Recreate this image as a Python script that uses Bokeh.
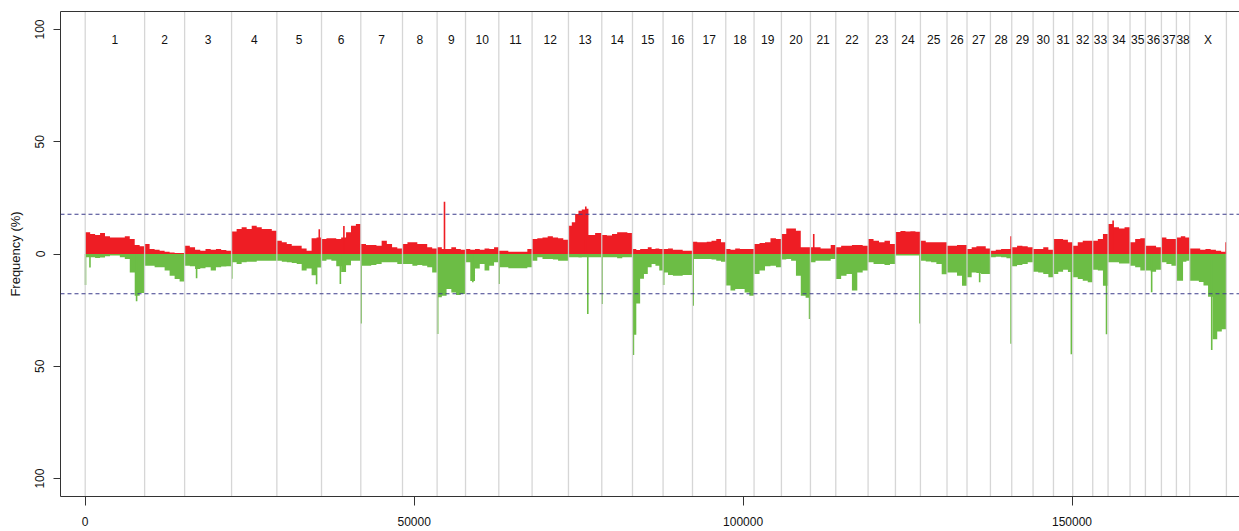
import numpy as np
from bokeh.plotting import figure
from bokeh.models import (ColumnDataSource, Range1d, LinearAxis, FixedTicker, Span)
from bokeh.core.properties import value
from bokeh.embed import file_html
from bokeh.resources import INLINE

# ---------------- data ----------------
CHROMS = ["1", "2", "3", "4", "5", "6", "7", "8", "9", "10", "11", "12", "13",
          "14", "15", "16", "17", "18", "19", "20", "21", "22", "23", "24", "25",
          "26", "27", "28", "29", "30", "31", "32", "33", "34", "35", "36", "37",
          "38", "X"]
CHROM_SIZES = [9030, 6080, 7140, 6880, 6790, 5970, 6340, 5260, 4320, 5060, 5060,
               5530, 5060, 4670, 4650, 4470, 5060, 4300, 4160, 4410, 3850, 4910,
               4160, 3800, 4040, 3040, 3560, 3240, 3240, 3100, 2930, 3040, 2330,
               3340, 2340, 2430, 2280, 2020, 5580]

# gain frequency (%) per chromosome, evenly spaced bins
GAIN = [
    [9.7, 8.9, 8.5, 9.4, 7.9, 7.4, 7.4, 7.4, 7.9, 6.7, 4.0, 3.4],
    [4.5, 2.2, 1.9, 1.5, 1.0, 0.7, 0.4, 0.4],
    [3.7, 3.0, 1.9, 1.5, 2.2, 1.9, 2.2, 1.8, 1.5],
    [10.0, 11.1, 11.9, 11.1, 12.6, 11.9, 11.1, 11.1, 10.4],
    [5.9, 5.2, 4.5, 3.7, 3.7, 2.5, 1.5, 7.0, 7.4],
    [6.7, 7.0, 7.0, 6.7, 7.4, 9.7, 12.6, 13.4],
    [4.5, 4.0, 4.0, 3.7, 5.9, 4.5, 3.0, 2.5],
    [4.5, 5.2, 5.2, 4.5, 4.5, 3.0, 2.5],
    [3.0, 2.2, 2.2, 3.0, 2.2, 1.9],
    [2.2, 1.9, 2.2, 1.9, 2.5, 2.2, 3.0],
    [1.5, 1.5, 1.0, 1.0, 1.0, 1.0, 2.2],
    [6.7, 7.0, 7.4, 7.9, 7.4, 7.0, 6.4],
    [12.6, 14.1, 17.8, 19.3, 19.8, 20.1, 8.5, 8.5, 9.4, 9.4],
    [8.5, 8.2, 8.9, 9.7, 9.7, 9.4],
    [2.2, 1.8, 2.2, 2.2, 3.0, 2.2, 2.5, 2.2],
    [2.2, 2.5, 1.9, 1.9, 1.5, 1.5],
    [5.5, 5.2, 5.2, 5.5, 5.9, 6.7, 5.2],
    [2.2, 1.9, 2.5, 2.2, 2.2, 2.2],
    [4.5, 4.9, 5.2, 7.0, 6.7],
    [8.9, 11.4, 11.4, 10.4, 3.0, 3.0],
    [3.0, 3.0, 2.5, 2.5, 4.0],
    [3.0, 3.7, 3.7, 4.0, 4.0, 3.7],
    [6.7, 5.9, 5.2, 5.9, 4.5],
    [9.8, 10.2, 10.0, 10.1, 9.9],
    [5.9, 5.2, 5.2, 5.2, 5.2],
    [3.7, 3.7, 4.0, 4.0],
    [2.2, 3.0, 3.4, 3.4, 2.5],
    [1.5, 1.9, 2.2, 2.2],
    [3.0, 3.7, 3.4, 3.0],
    [2.2, 2.2, 3.0, 1.9],
    [6.7, 6.7, 6.4, 5.2],
    [3.7, 5.2, 5.9, 5.9],
    [5.9, 6.7, 8.9],
    [13.4, 11.9, 11.4, 11.9],
    [5.2, 6.7, 7.0],
    [3.7, 3.7, 3.0],
    [7.4, 6.7, 6.7],
    [7.4, 7.9, 7.4],
    [2.5, 2.5, 1.9, 2.2, 1.9, 1.5, 1.0],
]

# loss frequency (%) per chromosome, evenly spaced bins
LOSS = [
    [1.5, 1.5, 1.8, 1.6, 1.0, 0.7, 0.7, 1.5, 2.2, 8.2, 18.6, 17.4],
    [5.2, 5.2, 5.9, 5.9, 7.4, 9.7, 11.1, 12.3],
    [5.2, 5.5, 6.7, 6.4, 5.9, 7.4, 5.9, 5.6, 5.5],
    [3.7, 4.5, 3.7, 3.4, 3.4, 3.0, 3.0, 3.0, 3.0],
    [3.0, 3.4, 3.7, 4.0, 4.5, 7.4, 6.5, 9.5, 6.0],
    [3.0, 2.5, 3.0, 5.5, 8.0, 5.0, 3.0, 3.0],
    [5.2, 5.2, 4.9, 4.5, 3.7, 3.7, 3.7, 4.5],
    [4.5, 4.5, 5.2, 4.9, 5.2, 5.9, 8.2],
    [19.3, 18.6, 15.6, 17.1, 18.3, 17.8],
    [3.7, 12.0, 6.5, 4.5, 7.4, 5.2, 3.7],
    [5.9, 5.9, 6.4, 6.4, 6.4, 6.4, 5.9],
    [3.0, 1.5, 2.2, 2.2, 2.5, 3.0, 3.0],
    [1.5, 1.4, 1.5, 1.6, 1.5, 1.5, 1.4, 1.5, 1.5, 1.5],
    [1.5, 1.5, 1.5, 1.9, 1.5, 1.5],
    [36.0, 22.0, 11.0, 8.9, 5.9, 4.5, 5.2, 7.4],
    [8.2, 9.4, 9.7, 9.7, 9.4, 9.4],
    [2.2, 2.2, 2.2, 2.2, 2.5, 3.0, 3.4],
    [14.0, 16.3, 15.6, 15.6, 17.1, 18.6],
    [8.9, 7.4, 5.5, 5.2, 5.9],
    [2.5, 2.2, 3.0, 9.7, 18.6, 19.5],
    [3.7, 3.0, 3.0, 3.0, 2.2],
    [11.1, 9.7, 8.9, 16.3, 8.2, 7.4],
    [3.7, 4.5, 4.5, 4.9, 4.5],
    [0.7, 0.7, 0.7, 0.7, 0.7],
    [3.0, 3.3, 3.7, 4.5, 9.0],
    [8.2, 8.2, 9.7, 14.1],
    [10.4, 8.2, 8.5, 8.9, 8.9],
    [1.5, 1.2, 1.5, 1.9],
    [5.5, 4.9, 4.5, 3.7],
    [7.9, 8.2, 8.9, 10.4],
    [8.9, 7.9, 7.0, 8.0],
    [10.4, 11.1, 11.9, 12.6],
    [7.0, 7.4, 14.1],
    [3.7, 3.7, 4.2, 4.2],
    [5.2, 5.9, 7.4],
    [7.4, 7.9, 7.0],
    [3.7, 4.5, 5.2],
    [11.9, 11.9, 3.4, 3.0],
    [11.9, 11.9, 12.5, 14.0, 19.0, 38.0, 34.5, 33.5],
]

# narrow single-probe peaks: chromosome, relative position, frequency (%)
GAIN_SPIKE_CHROM = ["5", "6", "9", "13", "21", "28", "34", "X"]
GAIN_SPIKE_FRAC = [0.95, 0.57, 0.26, 0.52, 0.13, 0.97, 0.23, 0.99]
GAIN_SPIKE_VAL = [11.0, 12.5, 23.3, 21.2, 8.9, 7.9, 14.9, 5.2]

LOSS_SPIKE_CHROM = ["1", "1", "1", "3", "4", "5", "6", "7", "9", "10", "11", "13",
                    "14", "15", "16", "17", "20", "24", "27", "28", "31", "33",
                    "36", "X"]
LOSS_SPIKE_FRAC = [0.005, 0.08, 0.865, 0.255, 0.005, 0.89, 0.48, 0.01, 0.02, 0.22,
                   0.01, 0.58, 0.01, 0.03, 0.02, 0.02, 0.97, 0.98, 0.54, 0.97,
                   0.93, 0.9, 0.39, 0.6]
LOSS_SPIKE_VAL = [13.8, 6.0, 21.0, 10.8, 11.0, 13.5, 13.4, 31.0, 35.6, 12.6, 13.4,
                  26.7, 22.3, 45.0, 13.8, 23.0, 29.0, 31.0, 12.6, 40.0, 44.6, 35.7,
                  17.0, 42.8]

THRESHOLD = 17.7
X_TICKS = [0, 50000, 100000, 150000]
Y_TICKS = [100, 50, 0, -50, -100]
Y_TICK_LABELS = ["100", "50", "0", "50", "100"]

# ---------------- derived positions ----------------
sizes = np.array(CHROM_SIZES, dtype=float)
starts = np.concatenate([[0.0], np.cumsum(sizes)[:-1]])
ends = starts + sizes
centers = starts + sizes / 2.0
idx = {c: i for i, c in enumerate(CHROMS)}


def step_area(vals_list):
    xs, ys = [], []
    for s, L, v in zip(starts, sizes, vals_list):
        n = len(v)
        e = s + L * np.arange(n + 1) / n
        xs.extend(np.repeat(e, 2)[1:-1].tolist())
        ys.extend(np.repeat(np.array(v, dtype=float), 2).tolist())
    return np.array(xs), np.array(ys)


gx, gy = step_area(GAIN)
lx, ly = step_area(LOSS)

RED = "#ee1d24"
GREEN = "#6cbd45"
FONT = "Liberation Sans"

p = figure(width=1239, height=531, x_range=Range1d(-3756, 175460),
           y_range=Range1d(-108, 108), output_backend="svg",
           toolbar_location=None, min_border_left=60, min_border_right=0,
           min_border_top=11, min_border_bottom=35)
p.outline_line_color = None
p.xgrid.visible = False
p.ygrid.visible = False
p.background_fill_color = "white"

p.varea(x=gx, y1=np.zeros_like(gy), y2=gy, fill_color=RED)
p.varea(x=lx, y1=np.zeros_like(ly), y2=-ly, fill_color=GREEN)

gsx = [starts[idx[c]] + f * sizes[idx[c]] for c, f in zip(GAIN_SPIKE_CHROM, GAIN_SPIKE_FRAC)]
p.segment(x0=gsx, y0=[0] * len(gsx), x1=gsx, y1=GAIN_SPIKE_VAL,
          line_color=RED, line_width=1.6)
lsx = [starts[idx[c]] + f * sizes[idx[c]] for c, f in zip(LOSS_SPIKE_CHROM, LOSS_SPIKE_FRAC)]
p.segment(x0=lsx, y0=[0] * len(lsx), x1=lsx, y1=[-v for v in LOSS_SPIKE_VAL],
          line_color=GREEN, line_width=1.6)

bounds = np.concatenate([starts, [ends[-1]]])
p.segment(x0=bounds, y0=[-108] * len(bounds), x1=bounds, y1=[108] * len(bounds),
          line_color="#d2d2d2", line_width=1.3, line_alpha=0.9)

for loc in (THRESHOLD, -THRESHOLD):
    p.add_layout(Span(location=loc, dimension="width", line_color="#3d3d8c",
                      line_dash="4 3", line_width=1.2))

lab = ColumnDataSource(dict(x=centers, y=[95.5] * len(centers), t=CHROMS))
p.text(x="x", y="y", text="t", source=lab, text_align="center",
       text_baseline="middle", text_font=value(FONT), text_font_size="12px",
       text_color="#111111")

# axes
p.xaxis.ticker = FixedTicker(ticks=X_TICKS)
p.xaxis.major_label_overrides = {t: str(t) for t in X_TICKS}
p.xaxis.major_tick_out = 9
p.xaxis.major_tick_in = 0
p.xaxis.minor_tick_line_color = None
p.xaxis.major_label_standoff = 11
p.yaxis.ticker = FixedTicker(ticks=Y_TICKS)
p.yaxis.major_label_overrides = {t: l for t, l in zip(Y_TICKS, Y_TICK_LABELS)}
p.yaxis.major_label_orientation = "vertical"
p.yaxis.major_tick_out = 7
p.yaxis.major_tick_in = 0
p.yaxis.minor_tick_line_color = None
p.yaxis.major_label_standoff = 9
p.yaxis.axis_label = "Frequency (%)"
p.yaxis.axis_label_standoff = 10
p.yaxis.axis_label_text_font_style = "normal"
p.yaxis.axis_label_text_font_size = "13px"
for ax in (p.xaxis, p.yaxis):
    ax.axis_line_color = "#333333"
    ax.major_tick_line_color = "#333333"
    ax.major_label_text_font = FONT
    ax.major_label_text_color = "#111111"
    ax.axis_label_text_font = FONT
    ax.axis_label_text_color = "#111111"
p.xaxis.major_label_text_font_size = "12px"
p.yaxis.major_label_text_font_size = "12px"

top = LinearAxis(ticker=FixedTicker(ticks=[]), axis_line_color="#333333",
                 major_tick_out=0, major_tick_in=0, minor_tick_out=0,
                 minor_tick_in=0, major_label_standoff=0,
                 major_label_text_font_size="0px")
p.add_layout(top, "above")

open("out.html", "w").write(file_html(p, INLINE))
